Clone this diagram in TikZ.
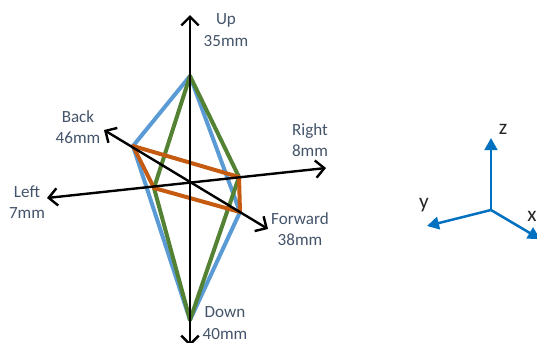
\documentclass[tikz,border=0pt]{standalone}
\usepackage{fontspec}
\setmainfont{Carlito}
\usepackage{xcolor}
\usetikzlibrary{arrows.meta}
\definecolor{edgeblue}{RGB}{91,155,213}
\definecolor{edgegreen}{RGB}{84,130,53}
\definecolor{edgeorange}{RGB}{197,90,17}
\definecolor{axisblue}{RGB}{0,112,192}
\definecolor{labelslate}{RGB}{68,84,106}
\begin{document}
\begin{tikzpicture}[
      x=0.75pt, y=-0.75pt,
      dirlabel/.style={align=center, text=labelslate, inner sep=0pt,
                  font=\fontsize{12.8pt}{16.2pt}\selectfont},
      axislabel/.style={text=black!85, inner sep=0pt,
                  font=\fontsize{16pt}{18pt}\selectfont},
      dirline/.style={black, line width=1.8pt, {Straight Barb[length=6.5pt,width=13pt]}-{Straight Barb[length=6.5pt,width=13pt]}},
      axisline/.style={axisblue, line width=1.9pt, -{Triangle[length=9pt,width=9.5pt]}},
      edge/.style={line width=3pt, line join=round}]
    \useasboundingbox (0,0) rectangle (537,343);

    % ends of the direction lines
    \coordinate (upend) at (190,15);
    \coordinate (downend) at (190,346);
    \coordinate (leftend) at (47,198);
    \coordinate (rightend) at (326,168);
    \coordinate (backend) at (104,130);
    \coordinate (forwardend) at (268,229);

    % corners
    \coordinate (upv) at (190,76);
    \coordinate (downv) at (190,320);
    \coordinate (backv) at (133,146);
    \coordinate (forwardv) at (240,212);
    \coordinate (leftv) at (154,188);
    \coordinate (rightv) at (239,177);

    \draw[edge, edgeblue] (upv) -- (backv) -- (downv) -- (forwardv) -- cycle;
    \draw[edge, edgegreen] (upv) -- (rightv) -- (downv) -- (leftv) -- cycle;
    \draw[edge, edgeorange] (backv) -- (rightv) -- (forwardv) -- (leftv) -- cycle;

    \draw[dirline] (downend) -- (upend);
    \draw[dirline] (leftend) -- (rightend);
    \draw[dirline] (backend) -- (forwardend);

    \node[dirlabel] (up) at (226,30) {Up\\35mm};
    \node[dirlabel] (down) at (225,323) {Down\\40mm};
    \node[dirlabel] (back) at (78,127) {Back\\46mm};
    \node[dirlabel] (right) at (310,140) {Right\\8mm};
    \node[dirlabel] (left) at (27,202) {Left\\7mm};
    \node[dirlabel] (forward) at (300,229) {Forward\\38mm};

    % frame on the right
    \coordinate (origin) at (491,210);
    \coordinate (zend) at (491,138);
    \coordinate (yend) at (427,226);
    \coordinate (xend) at (540,239);
    \draw[axisline] (origin) -- (zend);
    \draw[axisline] (origin) -- (yend);
    \draw[axisline] (origin) -- (xend);
    \node[axislabel] (zlabel) at (503,129) {z};
    \node[axislabel] (ylabel) at (424,205) {y};
    \node[axislabel] (xlabel) at (532,216) {x};
  \end{tikzpicture}
\end{document}
